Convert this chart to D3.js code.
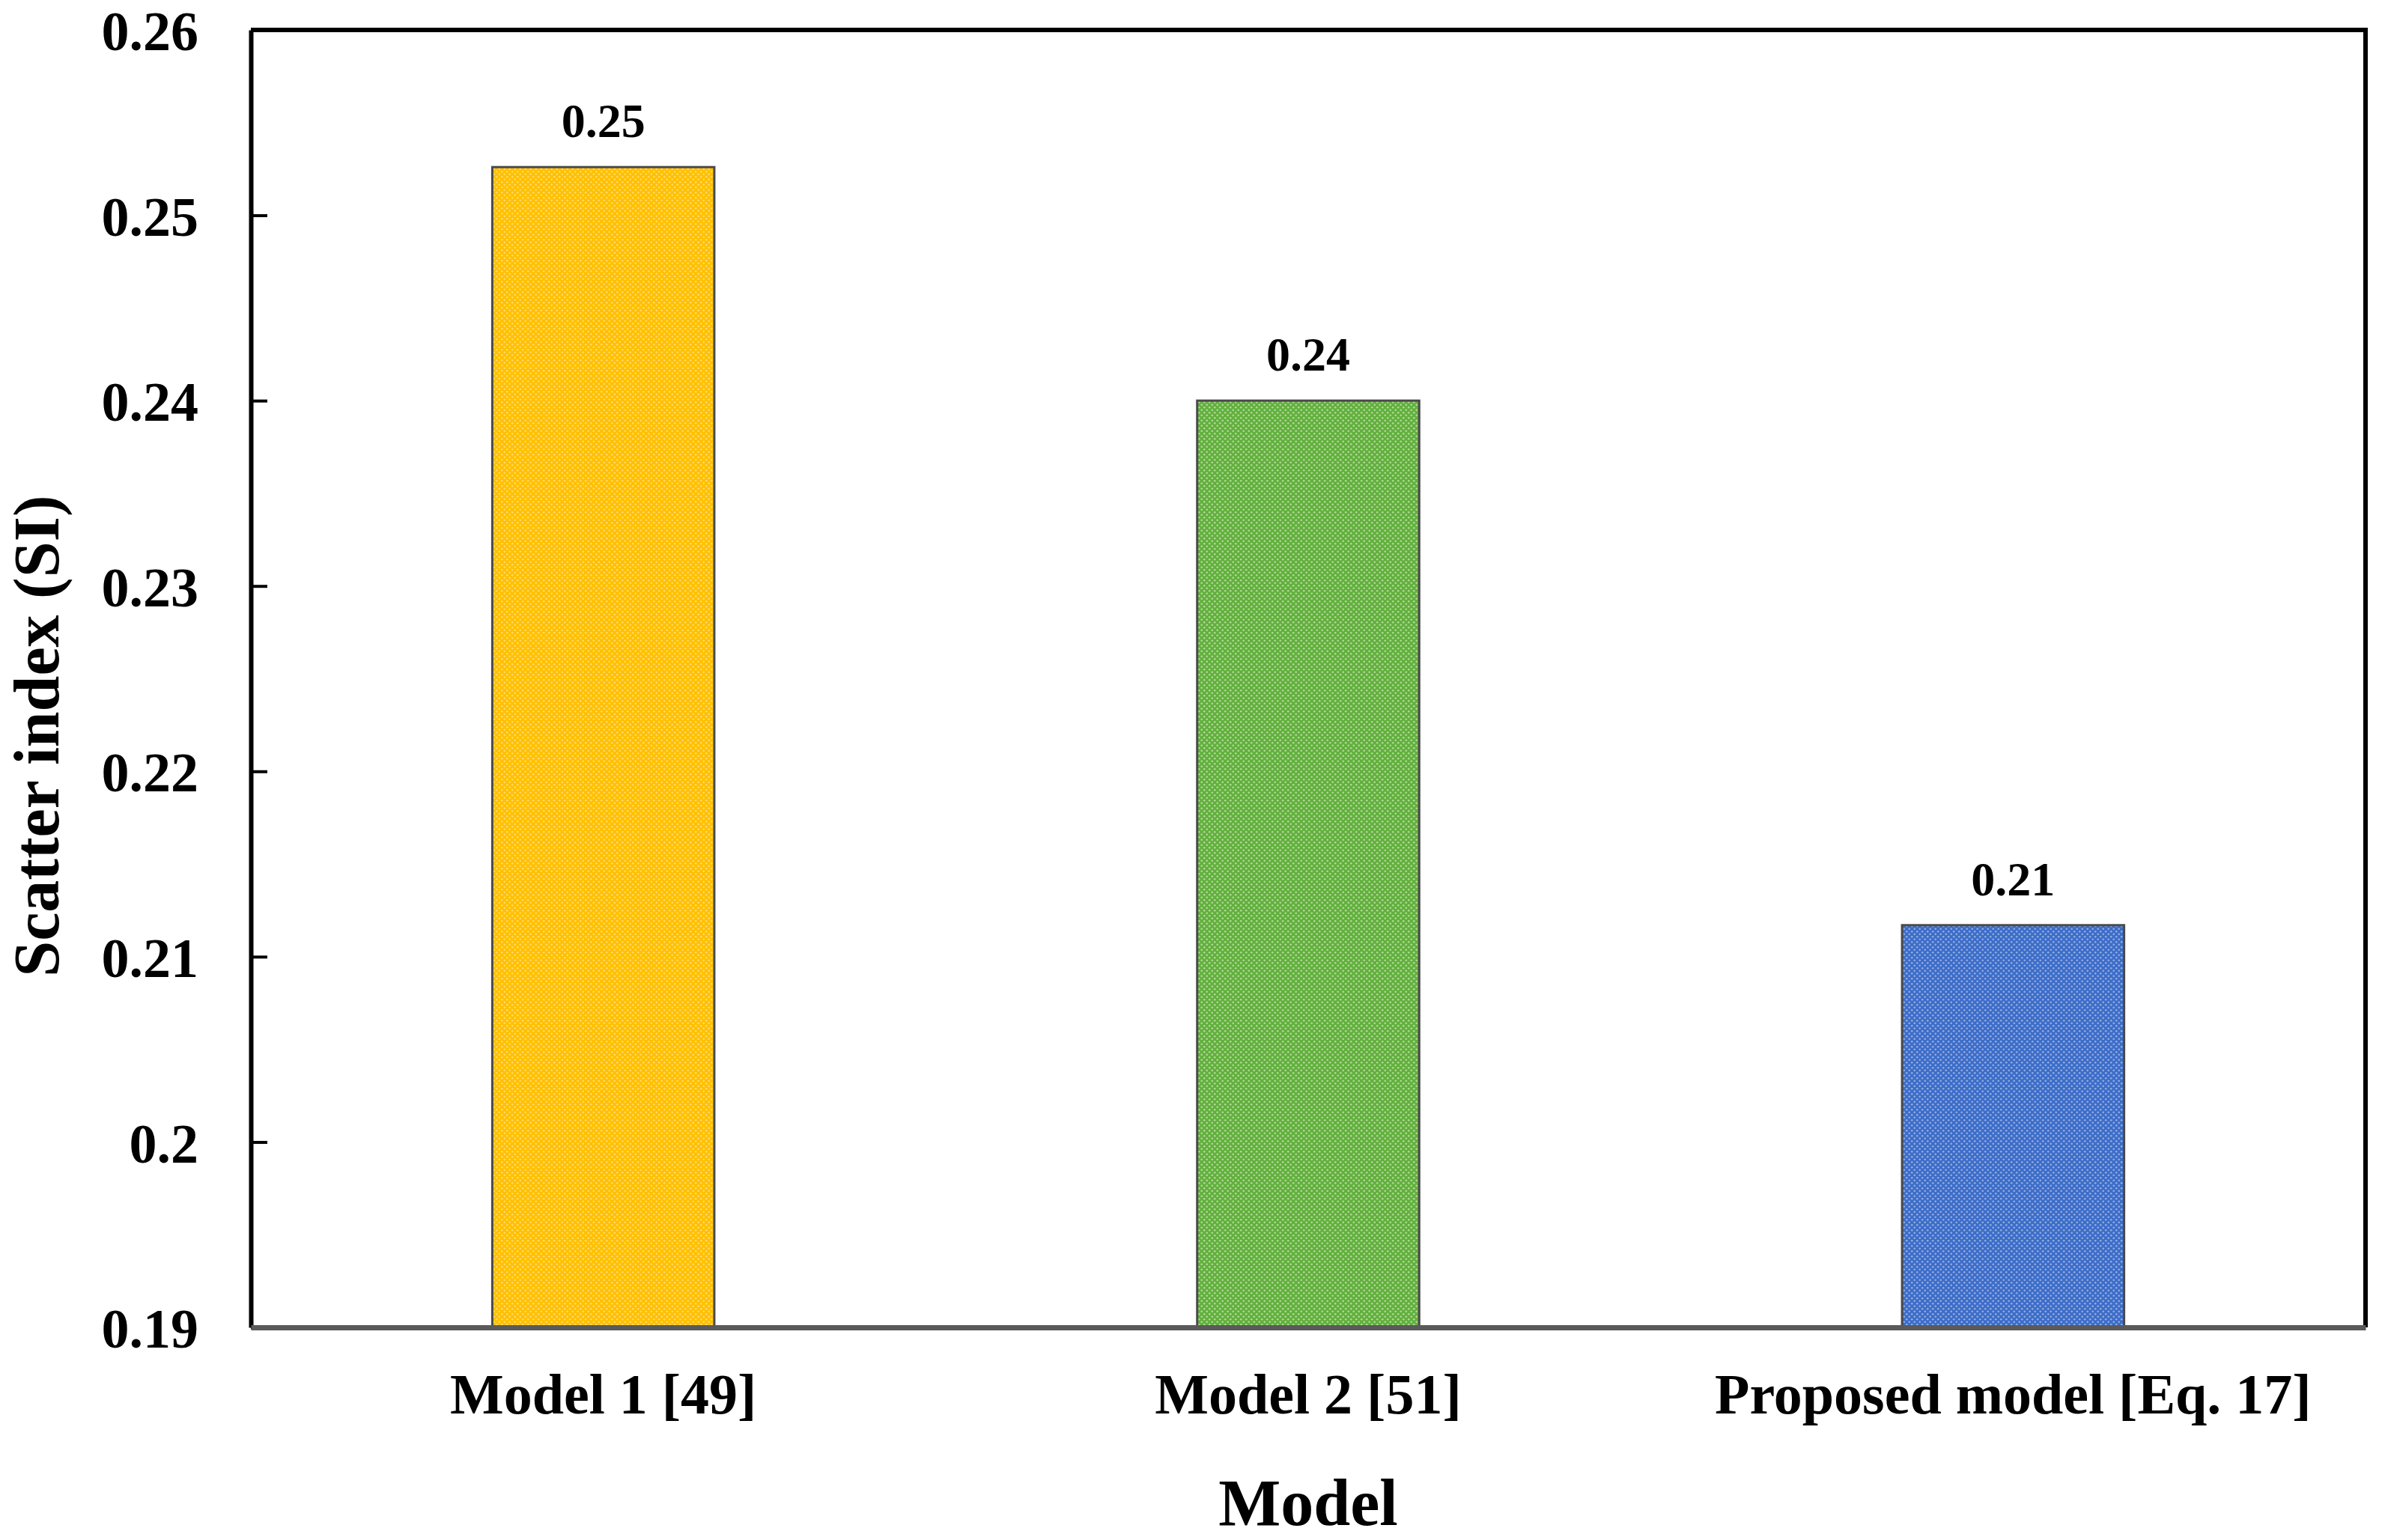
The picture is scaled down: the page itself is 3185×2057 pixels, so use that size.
<!DOCTYPE html>
<html>
<head>
<meta charset="utf-8">
<title>Scatter index (SI) by model</title>
<script src="https://d3js.org/d3.v7.min.js"></script>
<style>
  body { margin: 0; background: #fff; }
  text { font-family: "Liberation Serif", "Times New Roman", serif; font-weight: bold; fill: #000; }
</style>
</head>
<body>
<div id="chart"></div>
<script>
// data
var models = ["Model 1 [49]", "Model 2 [51]", "Proposed model [Eq. 17]"];
var siValues = [0.2526, 0.2400, 0.2117];
var valueLabels = ["0.25", "0.24", "0.21"];
var barColors = ["#FFC000", "#62B03E", "#3D6DC8"];
var dotColors = ["#FFDB70", "#B2DA98", "#93AEE2"];
var yTicks = [0.19, 0.20, 0.21, 0.22, 0.23, 0.24, 0.25, 0.26];
var yTickLabels = ["0.19", "0.2", "0.21", "0.22", "0.23", "0.24", "0.25", "0.26"];

var W = 3185, H = 2057;
var margin = {top: 40, right: 26, bottom: 284, left: 335};

var svg = d3.select("#chart")
  .append("svg")
    .attr("width", W)
    .attr("height", H);

// dotted fills like the excel pattern
var defs = svg.append("defs");
barColors.forEach(function(c, i) {
  var p = defs.append("pattern")
    .attr("id", "pat" + i)
    .attr("patternUnits", "userSpaceOnUse")
    .attr("width", 7)
    .attr("height", 7);
  p.append("rect").attr("width", 7).attr("height", 7).attr("fill", c);
  p.append("circle").attr("cx", 1.75).attr("cy", 1.75).attr("r", 1.3).attr("fill", dotColors[i]);
  p.append("circle").attr("cx", 5.25).attr("cy", 5.25).attr("r", 1.3).attr("fill", dotColors[i]);
});

var x = d3.scaleBand()
  .domain(models)
  .range([margin.left, W - margin.right])
  .paddingInner(0.685)
  .paddingOuter(0.3425);

var y = d3.scaleLinear()
  .domain([0.19, 0.26])
  .range([H - margin.bottom, margin.top]);

// bars
svg.selectAll(".bar")
  .data(siValues)
  .enter().append("rect")
    .attr("class", "bar")
    .attr("x", function(d, i) { return x(models[i]); })
    .attr("y", function(d) { return y(d); })
    .attr("width", x.bandwidth())
    .attr("height", function(d) { return y(0.19) - y(d); })
    .attr("fill", function(d, i) { return "url(#pat" + i + ")"; })
    .attr("stroke", "#4a4a4a")
    .attr("stroke-width", 3);

// value labels
svg.selectAll(".val")
  .data(siValues)
  .enter().append("text")
    .attr("class", "val")
    .attr("x", function(d, i) { return x(models[i]) + x.bandwidth() / 2; })
    .attr("y", function(d) { return y(d) - 40; })
    .attr("text-anchor", "middle")
    .style("font-size", "64px")
    .text(function(d, i) { return valueLabels[i]; });

// top and right frame
svg.append("path")
  .attr("d", "M" + margin.left + "," + y(0.26) + "H" + (W - margin.right) + "V" + y(0.19))
  .attr("fill", "none")
  .attr("stroke", "#000")
  .attr("stroke-width", 6);

// y axis
var yAxis = svg.append("g")
  .attr("transform", "translate(" + margin.left + ",0)")
  .call(d3.axisLeft(y)
    .tickValues(yTicks)
    .tickFormat(function(d, i) { return yTickLabels[i]; })
    .tickSizeInner(-22)
    .tickSizeOuter(0)
    .tickPadding(70));
yAxis.select(".domain").attr("stroke", "#000").attr("stroke-width", 6);
yAxis.selectAll(".tick line").attr("stroke", "#000").attr("stroke-width", 4);
yAxis.selectAll(".tick text")
  .attr("dy", "0.36em")
  .style("font-size", "74px")
  .attr("font-family", null)
  .attr("fill", "#000");

// x axis
var xAxis = svg.append("g")
  .attr("transform", "translate(0," + y(0.19) + ")")
  .call(d3.axisBottom(x).tickSize(0).tickPadding(61));
xAxis.select(".domain").attr("stroke", "#5a5a5a").attr("stroke-width", 7);
xAxis.selectAll(".tick text")
  .style("font-size", "76px")
  .attr("font-family", null)
  .attr("fill", "#000");

// axis titles
svg.append("text")
  .attr("x", (margin.left + W - margin.right) / 2)
  .attr("y", 2037)
  .attr("text-anchor", "middle")
  .style("font-size", "88px")
  .text("Model");

svg.append("text")
  .attr("transform", "translate(78," + 983 + ") rotate(-90)")
  .attr("text-anchor", "middle")
  .style("font-size", "86px")
  .text("Scatter index (SI)");
</script>
</body>
</html>
